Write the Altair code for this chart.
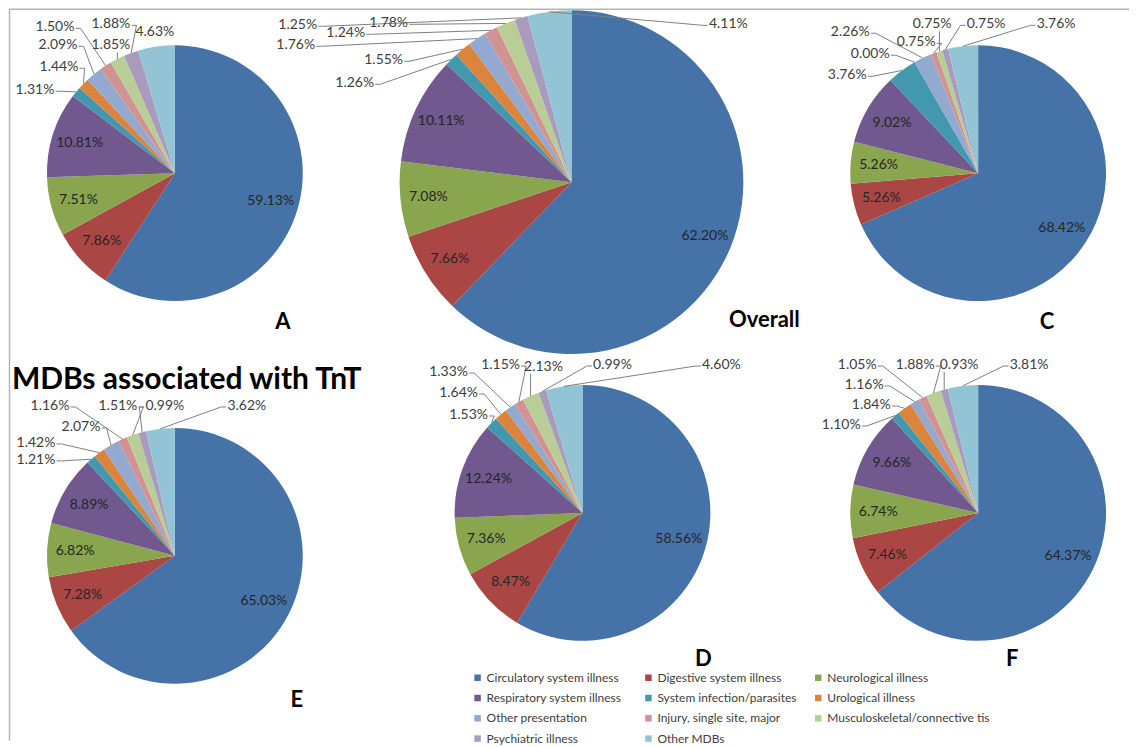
import math
import altair as alt
import pandas as pd

# ---------------- data ----------------
categories = [
    "Circulatory system illness", "Digestive system illness", "Neurological illness",
    "Respiratory system illness", "System infection/parasites", "Urological illness",
    "Other presentation", "Injury, single site, major", "Musculoskeletal/connective tis",
    "Psychiatric illness", "Other MDBs",
]
colors = ["#4572A7", "#AA4643", "#89A54E", "#71588F", "#4198AF", "#DB843D",
          "#93A9CF", "#D19392", "#B9CD96", "#A99BBD", "#92C4D5"]

panels = ["A", "Overall", "C", "E", "D", "F"]
values_A = [59.13, 7.86, 7.51, 10.81, 1.31, 1.44, 2.09, 1.50, 1.85, 1.88, 4.63]
values_Overall = [62.20, 7.66, 7.08, 10.11, 1.26, 1.55, 1.76, 1.24, 1.78, 1.25, 4.11]
values_C = [68.42, 5.26, 5.26, 9.02, 3.76, 0.00, 2.26, 0.75, 0.75, 0.75, 3.76]
values_E = [65.03, 7.28, 6.82, 8.89, 1.21, 1.42, 2.07, 1.16, 1.51, 0.99, 3.62]
values_D = [58.56, 8.47, 7.36, 12.24, 1.53, 1.64, 1.33, 1.15, 2.13, 0.99, 4.60]
values_F = [64.37, 7.46, 6.74, 9.66, 1.10, 1.84, 1.16, 1.05, 1.88, 0.93, 3.81]
values = {"A": values_A, "Overall": values_Overall, "C": values_C,
          "E": values_E, "D": values_D, "F": values_F}
title_text = "MDBs associated with TnT"

# ---------------- layout (page pixels) ----------------
OFF = 8
W, H = 1122, 733
FONT = "Lato"
pie_center = {"A": (175, 173), "Overall": (572, 182), "C": (979, 173),
              "E": (175, 556), "D": (583, 513), "F": (979, 513)}
pie_radius = {"A": 128, "Overall": 172, "C": 128, "E": 128, "D": 128, "F": 128}
n_inner = 4
# outer label offsets from pie centre for categories 4..10 and leader attach side
outer = {
    "A": [(-140, -83, "r"), (-116, -106, "r"), (-117, -128, "r"), (-120, -146, "r"),
          (-64, -128, "b"), (-64, -149, "r"), (-20, -141, "n")],
    "Overall": [(-217, -99, "r"), (-188, -122, "r"), (-276, -137, "r"), (-226, -149, "r"),
                (-183, -159, "r"), (-274, -157, "r"), (157, -158, "l")],
    "C": [(-131, -98, "r"), (-108, -119, "r"), (-128, -141, "r"), (-62, -131, "r"),
          (-46, -149, "b"), (8, -149, "l"), (78, -149, "l")],
    "E": [(-139, -96, "r"), (-139, -113, "r"), (-94, -129, "r"), (-125, -150, "r"),
          (-57, -150, "r"), (-10, -150, "l"), (72, -150, "l")],
    "D": [(-114, -98, "r"), (-124, -120, "r"), (-134, -141, "r"), (-82, -148, "r"),
          (-39, -146, "b"), (30, -148, "l"), (139, -148, "l")],
    "F": [(-137, -88, "r"), (-107, -108, "r"), (-114, -128, "r"), (-121, -148, "r"),
          (-63, -148, "r"), (-19, -148, "b"), (51, -148, "l")],
}
panel_letter_pos = {"A": (283, 322), "Overall": (765, 320), "C": (1048, 322),
                    "E": (297, 700), "D": (704, 659), "F": (1013, 659)}
title_pos = (12, 389)  # baseline
legend_x = [478, 649, 819]
legend_y0, legend_dy = 678, 20.3
LBL_SIZE = 14

def text_width(s, size):
    w = 0
    for ch in s:
        w += 0.26 if ch == "." else (0.80 if ch == "%" else 0.58)
    return w * size

color_scale = alt.Scale(domain=categories, range=colors)

layers = []
outer_rows, seg_rows = [], []
for p in panels:
    vals = values[p]
    cx, cy = pie_center[p]
    r = pie_radius[p]
    df = pd.DataFrame({
        "category": categories, "value": vals, "idx": list(range(len(vals))),
        "inner": [f"{v:.2f}%" if i < n_inner else "" for i, v in enumerate(vals)],
    })
    base = alt.Chart(df).encode(
        theta=alt.Theta("value:Q", stack=True, scale=alt.Scale(domain=[0, 100])),
        order=alt.Order("idx:Q"),
        x=alt.value(cx - OFF), y=alt.value(cy - OFF),
    )
    layers.append(base.mark_arc(outerRadius=r).encode(
        color=alt.Color("category:N", scale=color_scale, legend=None)))
    layers.append(base.mark_text(radius=r - 28, font=FONT, fontSize=LBL_SIZE,
                                 color="#262626").encode(text="inner:N"))
    # outer labels with leader lines (edge point derived from the data)
    cum = 0.0
    for i, v in enumerate(vals):
        mid = cum + v / 2.0
        cum += v
        if i < n_inner:
            continue
        ang = 2 * math.pi * mid / 100.0
        ex, ey = cx + r * math.sin(ang), cy - r * math.cos(ang)
        dx, dy, att = outer[p][i - n_inner]
        lx, ly = cx + dx, cy + dy
        lab = f"{v:.2f}%"
        outer_rows.append({"x": lx - OFF, "y": ly - OFF, "t": lab})
        hw = text_width(lab, LBL_SIZE) / 2
        pts = None
        if att == "r":
            p0 = (lx + hw + 1, ly + 1)
            pts = [p0, (p0[0] + 5, p0[1]), (ex, ey)]
        elif att == "l":
            p0 = (lx - hw - 1, ly + 1)
            pts = [p0, (p0[0] - 5, p0[1]), (ex, ey)]
        elif att == "b":
            pts = [(ex, ly + 7), (ex, ey)]
        if pts:
            for a, b in zip(pts[:-1], pts[1:]):
                seg_rows.append({"x": a[0] - OFF, "y": a[1] - OFF,
                                 "x2": b[0] - OFF, "y2": b[1] - OFF})

seg_df = pd.DataFrame(seg_rows)
outer_df = pd.DataFrame(outer_rows)

X = lambda f: alt.X(f, scale=None, axis=None)
Y = lambda f: alt.Y(f, scale=None, axis=None)

leaders = alt.Chart(seg_df).mark_rule(color="#808080", strokeWidth=1).encode(
    x=X("x:Q"), y=Y("y:Q"), x2="x2:Q", y2="y2:Q")
outer_txt = alt.Chart(outer_df).mark_text(
    font=FONT, fontSize=LBL_SIZE, color="#404040", baseline="middle").encode(
    x=X("x:Q"), y=Y("y:Q"), text="t:N")

letters_df = pd.DataFrame({
    "t": panels,
    "x": [panel_letter_pos[p][0] - OFF for p in panels],
    "y": [panel_letter_pos[p][1] - OFF for p in panels],
})
letters = alt.Chart(letters_df).mark_text(
    font=FONT, fontSize=22, fontWeight="bold", color="#000000", baseline="middle").encode(
    x=X("x:Q"), y=Y("y:Q"), text="t:N")

title_df = pd.DataFrame({"t": [title_text], "x": [title_pos[0] - OFF], "y": [title_pos[1] - OFF]})
title = alt.Chart(title_df).mark_text(
    font=FONT, fontSize=30, fontWeight="bold", color="#000000", align="left",
    baseline="alphabetic").encode(x=X("x:Q"), y=Y("y:Q"), text="t:N")

leg_df = pd.DataFrame({
    "category": categories,
    "x": [legend_x[i % 3] - OFF for i in range(len(categories))],
    "y": [legend_y0 + (i // 3) * legend_dy - OFF for i in range(len(categories))],
})
leg_sq = alt.Chart(leg_df).mark_square(size=42, opacity=1).encode(
    x=X("x:Q"), y=Y("y:Q"),
    color=alt.Color("category:N", scale=color_scale, legend=None))
leg_txt = alt.Chart(leg_df).mark_text(
    font=FONT, fontSize=12, color="#404040", align="left", baseline="middle", dx=9).encode(
    x=X("x:Q"), y=Y("y:Q"), text="category:N")

frame = alt.Chart(pd.DataFrame({"k": [0]})).mark_rule(color="#b5b5b5", strokeWidth=1.5).encode(
    x=alt.value(1.5), x2=alt.value(W), y=alt.value(1), y2=alt.value(1))
frame_l = alt.Chart(pd.DataFrame({"k": [0]})).mark_rule(color="#b5b5b5", strokeWidth=1.5).encode(
    x=alt.value(1.5), x2=alt.value(1.5), y=alt.value(1), y2=alt.value(H))

chart = alt.layer(
    frame, frame_l, *layers, leaders, outer_txt, letters, title, leg_sq, leg_txt
).properties(width=W, height=H, padding=0).configure_view(stroke=None)

chart.save("out.html", embed_options={"renderer": "svg", "actions": False})
